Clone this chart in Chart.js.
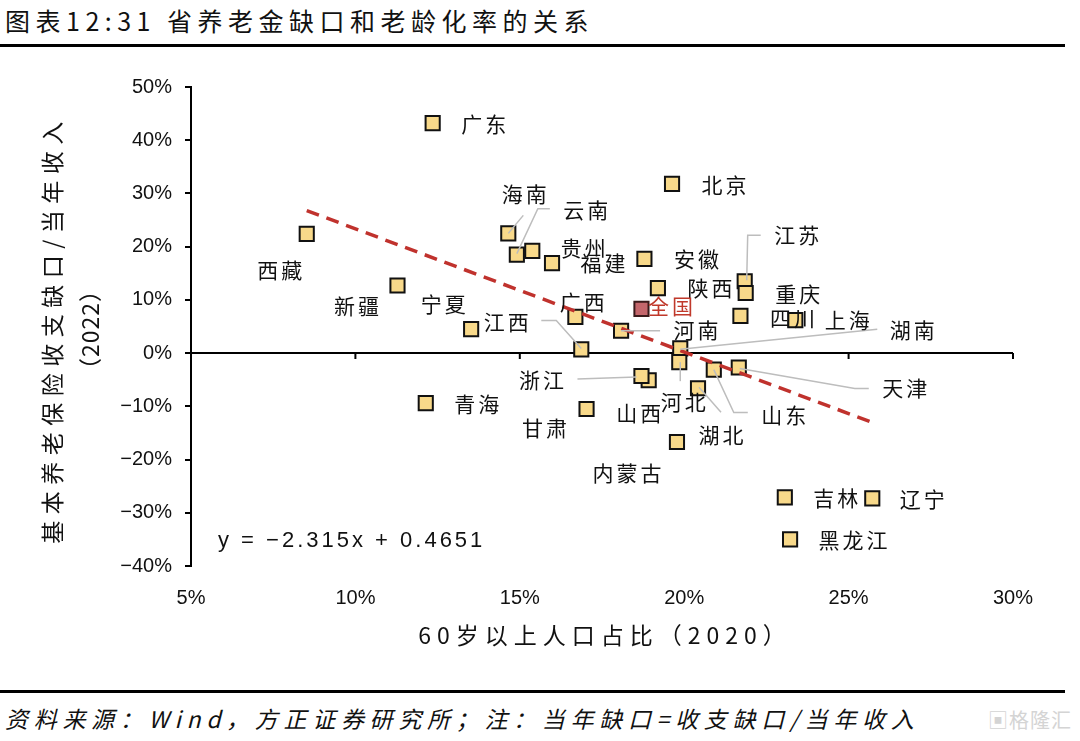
<!DOCTYPE html>
<html>
<head>
<meta charset="utf-8">
<script src="https://cdn.jsdelivr.net/npm/chart.js@4.4.1/dist/chart.umd.min.js"></script>
<style>
  html, body { margin: 0; padding: 0; background: #fff; }
  #wrap { position: relative; width: 1080px; height: 741px; overflow: hidden; font-family: "Noto Sans CJK SC", sans-serif; color: #111; }
  #title { position: absolute; left: 5px; top: 2px; font-size: 25px; letter-spacing: 5.5px; white-space: nowrap; }
  .rule { position: absolute; left: 0; width: 1065px; height: 3px; background: #000; }
  #foot { position: absolute; left: 5px; top: 701px; font-size: 23px; font-style: italic; letter-spacing: 5.7px; white-space: nowrap; }
  #wm { position: absolute; right: 8px; top: 705px; font-size: 20px; color: #d4d4d4; letter-spacing: 1px; }
  #chart { position: absolute; left: 0; top: 0; }
</style>
</head>
<body>
<div id="wrap">
  <div id="title">图表12:31 省养老金缺口和老龄化率的关系</div>
  <div class="rule" style="top:44px"></div>
  <div class="rule" style="top:690px"></div>
  <div id="foot">资料来源：Wind，方正证券研究所；注：当年缺口=收支缺口/当年收入</div>
  <div id="wm">▣格隆汇</div>
  <canvas id="chart" width="1080" height="741"></canvas>
</div>
<script>
// 各省 60岁以上人口占比(2020, %) 与 收支缺口/当年收入(2022, %)
const provinces = ['广东','北京','海南','云南','贵州','福建','安徽','陕西','广西','江西','河南',
  '新疆','宁夏','西藏','江苏','重庆','四川','上海','湖南','天津','山东','湖北','河北','山西',
  '浙江','甘肃','青海','内蒙古','吉林','辽宁','黑龙江'];
const agingRate = [12.35, 19.63, 14.65, 14.91, 15.38, 15.98, 18.79, 19.20, 16.69, 16.87, 18.08,
  11.28, 13.52, 8.52, 21.84, 21.87, 21.71, 23.38, 19.88, 21.66, 20.90, 20.42, 19.85, 18.92,
  18.70, 17.03, 12.14, 19.78, 23.06, 25.72, 23.22];
const gapRatio = [43.2, 31.8, 22.5, 18.5, 19.2, 16.9, 17.7, 12.2, 6.8, 0.7, 4.2,
  12.7, 4.5, 22.4, 13.5, 11.3, 7.0, 6.2, 0.9, -2.7, -3.1, -6.6, -1.7, -5.1,
  -4.3, -10.5, -9.4, -16.7, -27.1, -27.3, -35.0];
const nationalName = ['全国'];
const nationalAging = [18.70];
const nationalGap = [8.3];
const trendSlope = -2.315;
const trendIntercept = 0.4651;
const xTickValues = [5, 10, 15, 20, 25, 30];
const yTickValues = [50, 40, 30, 20, 10, 0, -10, -20, -30, -40];

// 标签相对数据点的偏移 (px)
const labelOffset = {
  '广东': [51, 1], '北京': [52, 1], '海南': [16, -39], '云南': [69, -45], '贵州': [51, -3],
  '福建': [51, 0], '安徽': [52, 0], '陕西': [52, 0], '广西': [7, -15], '江西': [-75, -27],
  '河南': [75, -1], '新疆': [-41, 20], '宁夏': [-28, -25], '西藏': [-27, 36], '江苏': [52, -46],
  '重庆': [52, 1], '四川': [52, 2], '上海': [52, 0], '湖南': [232, -18], '天津': [166, 21],
  '山东': [70, 45], '湖北': [23, 47], '河北': [4, 40], '山西': [-10, 33], '浙江': [-100, 4],
  '甘肃': [-42, 19], '青海': [51, 1], '内蒙古': [-50, 31], '吉林': [51, 1], '辽宁': [50, 1],
  '黑龙江': [63, 1], '全国': [29, -3]
};
// 引线折点 (相对数据点, px)
const leaderPath = {
  '海南': [[15, -18], [0, 0]],
  '云南': [[33, -46], [21, -46], [0, -1]],
  '江西': [[-40, -29], [-25, -29], [0, -1]],
  '河南': [[39, 0], [0, 0]],
  '江苏': [[16, -46], [3, -46], [2, -1]],
  '湖南': [[197, -19], [0, 1]],
  '天津': [[130, 21], [116, 21], [1, 1]],
  '山东': [[34, 43], [20, 43], [0, 0]],
  '湖北': [[23, 24], [1, -1]],
  '河北': [[1, 19], [1, 0]],
  '浙江': [[-64, 3], [-5, 1]]
};

const provincePoints = provinces.map((p, i) => ({ x: agingRate[i], y: gapRatio[i] }));
const nationalPoints = nationalName.map((p, i) => ({ x: nationalAging[i], y: nationalGap[i] }));
const xMinData = Math.min(...agingRate);
const xMaxData = Math.max(...agingRate);
const trendPoints = [xMinData, xMaxData].map(x => ({ x: x, y: (trendSlope * x / 100 + trendIntercept) * 100 }));

const pct = v => (v < 0 ? '\u2212' + Math.abs(v) : v) + '%';

const decorPlugin = {
  id: 'decor',
  beforeDatasetsDraw(chart) {
    const { ctx, chartArea, scales } = chart;
    const y0 = scales.y.getPixelForValue(0);
    ctx.save();
    ctx.strokeStyle = '#000';
    ctx.lineWidth = 2;
    ctx.beginPath();
    ctx.moveTo(chartArea.left, y0);
    ctx.lineTo(chartArea.right, y0);
    xTickValues.slice(1).forEach(v => {
      const px = scales.x.getPixelForValue(v);
      ctx.moveTo(px, y0);
      ctx.lineTo(px, y0 + 6);
    });
    ctx.stroke();
    ctx.restore();
  },
  afterDatasetsDraw(chart) {
    const { ctx, chartArea } = chart;
    ctx.save();
    // 引线
    ctx.strokeStyle = '#BDBDBD';
    ctx.lineWidth = 1.5;
    const drawLabels = (dsIndex, names, color) => {
      const meta = chart.getDatasetMeta(dsIndex);
      meta.data.forEach((el, i) => {
        const name = names[i];
        const path = leaderPath[name];
        if (path) {
          ctx.beginPath();
          path.forEach((p, k) => {
            const fn = k === 0 ? 'moveTo' : 'lineTo';
            ctx[fn](el.x + p[0], el.y + p[1]);
          });
          ctx.stroke();
        }
      });
      ctx.fillStyle = color;
      ctx.font = '21px "Noto Sans CJK SC"';
      ctx.letterSpacing = '3px';
      ctx.textAlign = 'center';
      ctx.textBaseline = 'middle';
      meta.data.forEach((el, i) => {
        const name = names[i];
        const off = labelOffset[name] || [0, 0];
        ctx.fillText(name, el.x + off[0] + 1.5, el.y + off[1]);
      });
    };
    drawLabels(1, provinces, '#111');
    drawLabels(2, nationalName, '#C0392B');

    // 回归方程
    ctx.fillStyle = '#111';
    ctx.font = '22px "Liberation Sans"';
    ctx.letterSpacing = '3px';
    ctx.textAlign = 'left';
    ctx.fillText('y = \u22122.315x + 0.4651', chartArea.left + 27, chartArea.bottom - 25);

    // 坐标轴标题
    ctx.font = '23px "Noto Sans CJK SC"';
    ctx.letterSpacing = '6px';
    ctx.textAlign = 'center';
    ctx.fillText('60岁以上人口占比（2020）', (chartArea.left + chartArea.right) / 2 + 3, 635);
    ctx.save();
    ctx.translate(52, (chartArea.top + chartArea.bottom) / 2 + 3);
    ctx.rotate(-Math.PI / 2);
    ctx.letterSpacing = '6.5px';
    ctx.fillText('基本养老保险收支缺口/当年收入', 0, 0);
    ctx.letterSpacing = '1px';
    ctx.fillText('（2022）', 0, 38);
    ctx.restore();
    ctx.restore();
  }
};

new Chart(document.getElementById('chart'), {
  type: 'scatter',
  data: {
    datasets: [
      {
        label: '趋势线',
        data: trendPoints,
        showLine: true,
        borderColor: '#C0322D',
        borderWidth: 3.5,
        borderDash: [13, 8],
        pointRadius: 0,
        fill: false,
        order: 0
      },
      {
        label: '各省',
        data: provincePoints,
        pointStyle: 'rect',
        pointRadius: 10,
        pointBackgroundColor: '#F8D98A',
        pointBorderColor: '#111',
        pointBorderWidth: 2,
        order: 1
      },
      {
        label: '全国',
        data: nationalPoints,
        pointStyle: 'rect',
        pointRadius: 10,
        pointBackgroundColor: '#C4666B',
        pointBorderColor: '#3a1a1a',
        pointBorderWidth: 2,
        order: 1
      }
    ]
  },
  options: {
    responsive: false,
    animation: false,
    layout: { padding: { left: 0, top: 87, right: 67, bottom: 0 } },
    plugins: {
      legend: { display: false },
      tooltip: { enabled: false }
    },
    scales: {
      x: {
        type: 'linear',
        position: 'bottom',
        min: 5,
        max: 30,
        afterBuildTicks: s => { s.ticks = xTickValues.map(v => ({ value: v })); },
        afterFit: s => { s.height = 175; },
        grid: { display: false, drawTicks: false },
        border: { display: false },
        ticks: {
          padding: 20,
          color: '#111',
          font: { family: 'Liberation Sans', size: 20 },
          callback: v => pct(v)
        }
      },
      y: {
        type: 'linear',
        min: -40,
        max: 50,
        afterBuildTicks: s => { s.ticks = yTickValues.map(v => ({ value: v })); },
        afterFit: s => { s.width = 191; },
        grid: { display: true, drawOnChartArea: false, drawTicks: true, tickLength: 6, color: '#000', lineWidth: 2 },
        border: { display: true, color: '#000', width: 2 },
        ticks: {
          padding: 13,
          color: '#111',
          font: { family: 'Liberation Sans', size: 20 },
          callback: v => pct(v)
        }
      }
    }
  },
  plugins: [decorPlugin]
});
</script>
</body>
</html>
